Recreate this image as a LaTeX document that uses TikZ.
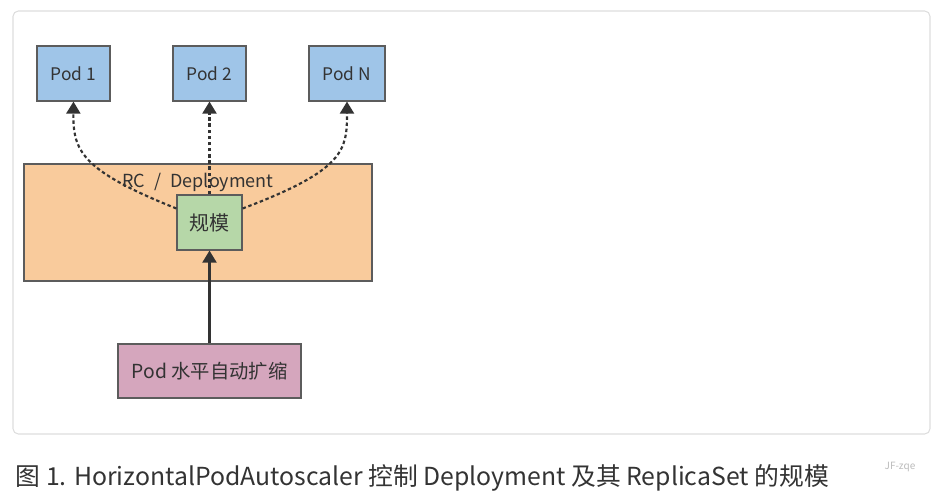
\documentclass[tikz,border=0pt]{standalone}
\usepackage{fontspec}
\setmainfont{Noto Sans CJK SC}
\usepackage{xcolor}
\usetikzlibrary{arrows.meta}
\definecolor{edge}{HTML}{333333}
\definecolor{frame}{HTML}{DDDDDD}
\definecolor{podblue}{HTML}{9FC5E8}
\definecolor{deporange}{HTML}{F9CB9C}
\definecolor{scalegreen}{HTML}{B6D7A8}
\definecolor{hpapink}{HTML}{D5A6BD}
\definecolor{muted}{HTML}{BBBBBB}
\tikzset{
  box/.style={draw=edge!80, line width=0.9pt, inner sep=0pt, font=\fontsize{13}{15}\selectfont, text=edge},
  pod/.style={box, fill=podblue, minimum width=54.75pt, minimum height=41.25pt},
  link/.style={draw=edge, line width=1.6pt, -{Triangle[length=9pt,width=10.5pt]}},
  weak/.style={link, dash pattern=on 2.6pt off 2pt},
  every node/.style={text=edge}
}
\begin{document}
\begin{tikzpicture}[x=0.75pt,y=-0.75pt]
  \useasboundingbox (0,0) rectangle (942,496);
  \draw[frame, rounded corners=4pt, line width=0.8pt] (13,11) rectangle (930,434);

  \node[box, fill=deporange, minimum width=261pt, minimum height=87.75pt] (dep) at (198,222.5) {};
  \node[font=\fontsize{13.5}{15}\selectfont] (deplabel) at (198,182) {RC \;/\; Deployment};

  \node[pod] (p1) at (73.5,73.5) {Pod 1};
  \node[pod] (p2) at (209.5,73.5) {Pod 2};
  \node[pod, minimum width=57pt] (pn) at (347,73.5) {Pod N};

  \node[box, fill=scalegreen, minimum width=48.75pt, minimum height=41.25pt, font=\fontsize{15}{17}\selectfont] (scale) at (209.5,222.5) {规模};
  \node[box, fill=hpapink, minimum width=137.25pt, minimum height=40.5pt, font=\fontsize{14.5}{16}\selectfont] (hpa) at (209.5,371) {Pod 水平自动扩缩};

  \coordinate (sl) at ([yshift=10.5pt]scale.west);
  \coordinate (sr) at ([yshift=10.5pt]scale.east);
  \draw[weak] (sl) .. controls (80,170) and (73,150) .. (p1.south);
  \draw[weak] (scale.north) -- (p2.south);
  \draw[weak] (sr) .. controls (345,170) and (347,150) .. (pn.south);
  \draw[link] (hpa.north) -- (scale.south);

  \node[anchor=west, font=\fontsize{18.6}{21}\selectfont] (caption) at (11,478) {图 1. HorizontalPodAutoscaler 控制 Deployment 及其 ReplicaSet 的规模};
  \node[font=\fontsize{7.5}{9}\selectfont, text=muted] (mark) at (900,467) {JF-zqe};
\end{tikzpicture}
\end{document}
